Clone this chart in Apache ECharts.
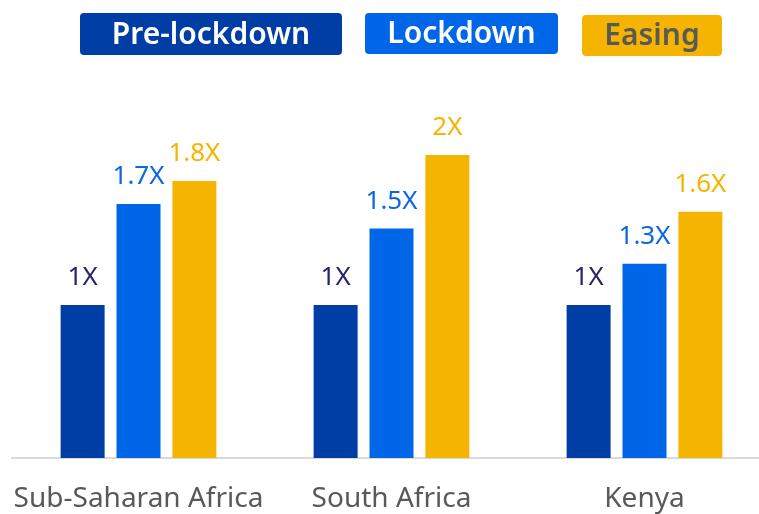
<!DOCTYPE html>
<html lang="en">
  <head>
    <meta charset="UTF-8" />
    <title>Lockdown multiplier</title>
    <script src="https://cdn.jsdelivr.net/npm/echarts@6/dist/echarts.min.js"></script>
    <style>
      html, body { margin: 0; padding: 0; background: #fff; overflow: hidden; }
      /* a bit wider than the window: the axis runs off the right edge */
      #main { width: 771px; height: 514px; }
    </style>
  </head>
  <body>
    <div id="main"></div>
    <script type="text/javascript">
      // data
      var categories = ["Sub-Saharan Africa", "South Africa", "Kenya"];
      var seriesNames = ["Pre-lockdown", "Lockdown", "Easing"];
      var preLockdown = [1, 1, 1];
      var lockdown = [1.66, 1.5, 1.27];
      var easing = [1.81, 1.98, 1.61];
      var preLabels = ["1X", "1X", "1X"];
      var lockLabels = ["1.7X", "1.5X", "1.3X"];
      var easeLabels = ["1.8X", "2X", "1.6X"];

      var font = "'Noto Sans', 'Open Sans', sans-serif";
      var barColors = ["#003da5", "#0066e8", "#f5b400"];
      var labelColors = ["#24246b", "#0a66e3", "#f5b400"];

      function makeSeries(i, values, labels) {
        return {
          name: seriesNames[i],
          type: "bar",
          data: values,
          barWidth: 44,
          barGap: "27%",
          itemStyle: { color: barColors[i] },
          label: {
            show: true,
            position: "top",
            distance: 14,
            fontFamily: font,
            fontSize: 26,
            color: labelColors[i],
            formatter: function (p) { return labels[p.dataIndex]; }
          }
        };
      }

      // legend boxes drawn as graphic groups
      var legendBoxes = [
        { x: 80, y: 13, w: 262, h: 42, text: "#ffffff" },
        { x: 365, y: 13, w: 193, h: 41, text: "#ffffff" },
        { x: 582, y: 15, w: 140, h: 41, text: "#595959" }
      ];
      var legendGraphics = legendBoxes.map(function (b, i) {
        return {
          type: "group",
          left: b.x,
          top: b.y,
          children: [
            {
              type: "rect",
              shape: { x: 0, y: 0, width: b.w, height: b.h, r: 4 },
              style: { fill: barColors[i] }
            },
            {
              type: "text",
              x: b.w / 2,
              y: b.h / 2 + 1,
              style: {
                text: seriesNames[i],
                fill: b.text,
                font: "600 30px " + font,
                textAlign: "center",
                textVerticalAlign: "middle"
              }
            }
          ]
        };
      });

      var myChart = echarts.init(document.getElementById("main"));
      var option = {
        animation: false,
        grid: { left: 12, right: 0, top: 75.5, bottom: 56, containLabel: false },
        legend: { show: false },
        xAxis: {
          type: "category",
          data: categories,
          axisLine: { lineStyle: { color: "#d9d9d9", width: 2 } },
          axisTick: { show: false },
          axisLabel: {
            interval: 0,
            fontFamily: font,
            fontSize: 28,
            color: "#595959",
            margin: 27
          }
        },
        yAxis: {
          type: "value",
          min: 0,
          max: 2.5,
          show: false
        },
        graphic: legendGraphics,
        series: [
          makeSeries(0, preLockdown, preLabels),
          makeSeries(1, lockdown, lockLabels),
          makeSeries(2, easing, easeLabels)
        ]
      };
      myChart.setOption(option);
    </script>
  </body>
</html>
